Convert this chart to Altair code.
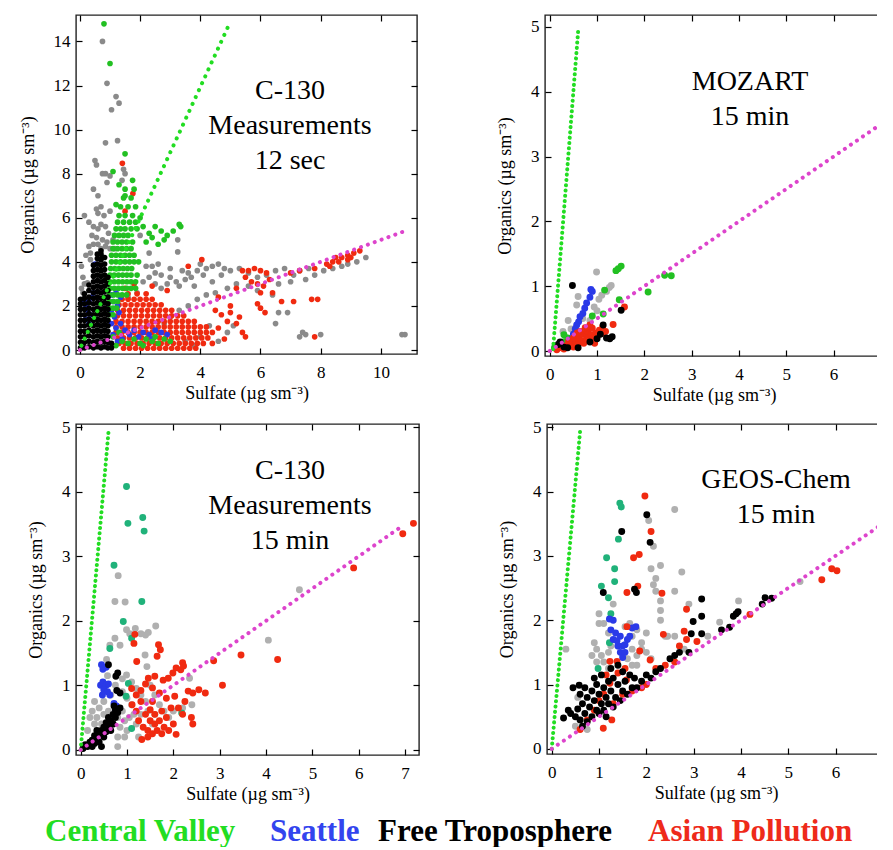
import altair as alt
import pandas as pd

FONT = "Liberation Serif"
UNIT = "(µg sm⁻³)"
X_TITLE = "Sulfate " + UNIT
Y_TITLE = "Organics " + UNIT

# ---------------- Panel 1: C-130 measurements, 12 sec ----------------
P1_BLACK_COLS = {
    0.02: [0.1, 0.35, 0.6, 0.85, 1.1, 1.35, 1.6, 1.85, 2.1, 2.3],
    0.15: [0.1, 0.35, 0.6, 0.85, 1.1, 1.35, 1.6, 1.85, 2.1, 2.35, 2.55],
    0.3: [0.15, 0.4, 0.65, 0.9, 1.15, 1.4, 1.65, 1.9, 2.15, 2.4, 2.7, 2.95],
    0.45: [0.1, 0.35, 0.6, 0.85, 1.1, 1.35, 1.6, 1.85, 2.1, 2.35, 2.6, 2.85, 3.1, 3.35, 3.6, 3.85],
    0.58: [0.15, 0.4, 0.65, 0.9, 1.15, 1.4, 1.65, 1.9, 2.15, 2.4, 2.65, 2.9, 3.15, 3.4, 3.65, 3.9, 4.15, 4.35],
    0.7: [0.1, 0.35, 0.6, 0.85, 1.1, 1.35, 1.6, 1.85, 2.1, 2.35, 2.6, 2.85, 3.1, 3.35, 3.6, 3.85, 4.1, 4.35, 4.5],
    0.82: [0.15, 0.4, 0.65, 0.9, 1.15, 1.4, 1.65, 1.9, 2.15, 2.4, 2.65, 2.9, 3.15, 3.4, 3.65, 3.9, 4.2],
    0.93: [0.1, 0.35, 0.6, 0.85, 1.1, 1.35, 1.6, 1.85, 2.1, 2.4, 2.7, 3.0, 3.3],
    1.05: [0.1, 0.3],
}
P1_RED_ROWS = {
    0.08: [1.45, 1.65, 1.85, 2.05, 2.25, 2.45, 2.65, 2.85, 3.05, 3.25, 3.45, 3.65, 3.85],
    0.3: [1.3, 1.5, 1.7, 1.9, 2.1, 2.3, 2.5, 2.7, 2.9, 3.1, 3.3, 3.5, 3.7, 3.9, 4.1],
    0.55: [1.25, 1.45, 1.65, 1.85, 2.05, 2.25, 2.45, 2.65, 2.85, 3.05, 3.25, 3.45, 3.65, 3.85, 4.05, 4.25],
    0.8: [1.2, 1.4, 1.6, 1.8, 2.0, 2.2, 2.4, 2.6, 2.8, 3.0, 3.2, 3.4, 3.6, 3.8, 4.0, 4.2, 4.4],
    1.05: [1.2, 1.4, 1.6, 1.8, 2.0, 2.2, 2.4, 2.6, 2.8, 3.0, 3.2, 3.4, 3.6, 3.8, 4.0, 4.2],
    1.3: [1.2, 1.4, 1.6, 1.8, 2.0, 2.2, 2.4, 2.6, 2.8, 3.0, 3.2, 3.4, 3.6, 3.8],
    1.55: [1.25, 1.45, 1.65, 1.85, 2.05, 2.25, 2.45, 2.65, 2.85, 3.05, 3.25, 3.45],
    1.8: [1.25, 1.45, 1.65, 1.85, 2.05, 2.25, 2.45, 2.65, 2.85, 3.05],
    2.05: [1.3, 1.5, 1.7, 1.9, 2.1, 2.3, 2.5, 2.7],
    2.3: [1.4, 1.6, 1.8, 2.0, 2.2, 2.4],
    2.55: [1.6, 1.9, 2.2],
}
P1_RED_SPARSE = [
    (4.6, 2.4), (4.7, 1.6), (4.9, 1.3), (5.0, 2.0), (5.2, 1.2), (4.6, 1.0), (5.4, 0.8), (5.5, 0.6),
    (4.8, 0.5), (4.4, 0.3), (3.6, 3.8), (4.05, 4.1), (2.4, 2.9), (1.5, 2.8), (1.8, 3.0), (2.9, 2.7),
    (6.0, 1.9), (5.9, 2.1), (6.15, 1.7), (6.7, 2.2), (7.1, 2.2), (7.7, 2.3), (7.9, 2.3), (7.8, 0.6),
    (1.41, 8.47), (1.76, 7.1), (1.5, 6.3), (5.4, 3.6), (5.6, 3.6), (5.8, 3.7), (6.0, 3.6), (6.2, 3.5),
    (5.5, 3.3), (5.7, 3.1), (5.9, 3.0), (6.1, 2.9), (6.3, 3.2), (6.4, 2.6), (6.0, 2.6), (5.2, 2.8),
    (7.0, 3.5), (7.3, 3.6), (7.8, 3.7), (8.2, 3.9), (8.4, 4.0), (8.5, 4.2), (8.7, 4.2), (8.9, 4.3),
    (9.1, 4.4), (9.3, 4.5), (8.6, 4.0), (8.9, 4.1), (8.3, 3.8), (9.0, 4.2), (5.0, 1.7), (5.3, 1.5),
    (4.5, 1.8),
]
P1_GRAY = [
    (0.75, 14.0), (0.9, 12.1), (1.2, 11.5), (1.3, 11.2), (1.05, 10.9), (0.85, 9.4), (1.25, 9.5),
    (0.5, 8.6), (0.55, 8.4), (0.75, 8.0), (0.85, 8.0), (1.0, 7.9), (1.45, 8.2), (1.5, 8.0), (0.45, 7.3),
    (0.6, 7.0), (0.9, 7.6), (1.4, 7.7), (0.7, 6.5), (0.6, 6.2), (0.15, 6.1), (0.3, 5.8), (0.55, 6.4),
    (0.8, 6.1), (1.0, 6.3), (0.45, 5.6), (0.6, 5.5), (0.7, 5.7), (0.85, 5.6), (0.95, 5.3), (0.4, 5.2),
    (0.55, 5.1), (0.6, 4.8), (0.75, 5.0), (0.9, 4.9), (0.3, 4.7), (0.45, 4.8), (0.7, 4.6), (1.0, 4.6),
    (0.2, 4.3), (0.35, 4.4), (0.05, 3.8), (0.1, 3.3), (0.15, 3.0), (0.05, 2.8), (0.25, 3.05), (0.1, 2.6),
    (0.35, 4.1), (0.85, 4.7), (1.1, 5.0), (1.15, 4.6),
    (1.6, 2.4), (1.9, 2.6), (2.1, 3.1), (2.3, 3.3), (2.5, 3.5), (2.2, 3.8), (2.4, 3.8), (2.7, 3.4),
    (2.9, 3.0), (3.0, 3.3), (3.2, 3.1), (3.4, 3.6), (3.5, 3.2), (3.7, 3.3), (3.9, 3.6), (4.1, 3.4),
    (4.2, 3.7), (4.4, 3.8), (4.6, 3.9), (4.8, 3.7), (4.0, 3.9), (5.0, 3.6), (5.3, 3.7), (4.7, 3.4),
    (5.6, 3.5), (5.9, 3.3), (6.2, 3.4), (6.5, 3.6), (6.8, 3.7), (7.1, 3.4), (7.3, 3.6), (7.6, 3.7),
    (7.8, 3.4), (8.1, 3.6), (8.4, 3.7), (8.7, 3.8), (8.9, 3.9), (9.2, 4.0), (9.5, 4.2), (7.5, 3.2),
    (7.0, 3.1), (6.6, 3.0), (6.4, 2.5), (5.9, 2.7), (5.6, 2.9), (5.2, 3.0), (4.9, 2.8), (4.5, 2.6),
    (4.2, 2.5), (3.9, 2.3), (3.6, 2.0), (3.3, 1.8), (3.0, 1.5), (2.8, 1.2), (3.5, 0.4), (3.8, 0.2),
    (4.6, 0.4), (4.9, 0.8), (5.1, 1.1), (4.3, 1.1), (4.0, 0.6), (6.5, 1.2), (6.6, 1.7), (6.9, 1.7),
    (7.3, 0.6), (7.4, 0.8), (7.5, 0.7), (8.0, 0.7), (10.8, 0.7), (10.7, 0.7), (3.25, 5.0), (3.25, 4.45),
    (2.0, 5.2), (2.3, 4.4), (2.6, 3.9), (3.0, 3.7), (3.6, 3.5), (2.5, 3.0), (2.7, 2.8), (3.3, 2.9),
    (3.8, 2.9), (4.4, 3.1),
]
P1_GREEN_ROWS = {
    1.6: [0.98, 1.1],
    1.9: [0.98, 1.1, 1.22],
    2.2: [0.98, 1.12, 1.25],
    2.5: [0.98, 1.12, 1.26, 1.4, 1.55],
    2.8: [1.0, 1.14, 1.28, 1.42, 1.56, 1.7, 1.85],
    3.1: [1.0, 1.14, 1.28, 1.42, 1.56, 1.7, 1.85],
    3.4: [1.0, 1.14, 1.28, 1.42, 1.56, 1.7, 1.9],
    3.7: [1.02, 1.16, 1.3, 1.44, 1.58, 1.72],
    4.0: [1.05, 1.2, 1.35, 1.5, 1.65, 1.8, 1.95],
    4.3: [1.05, 1.2, 1.35, 1.5, 1.65, 1.8],
    4.6: [1.1, 1.25, 1.4, 1.55, 1.7],
    4.9: [1.1, 1.25, 1.4, 1.55, 1.75],
    5.2: [1.15, 1.3, 1.45, 1.6],
    5.5: [1.2, 1.35, 1.5, 1.7, 1.9],
    5.8: [1.25, 1.45, 1.65, 1.85],
    6.1: [1.3, 1.5, 1.75],
    6.5: [1.35, 1.6, 1.85],
    6.9: [1.45, 1.7],
    7.3: [1.5, 1.8],
    7.7: [1.75],
}
P1_GREEN_SPARSE = [
    (0.8, 14.8), (1.0, 13.0), (1.5, 8.9), (1.1, 8.1), (1.3, 7.5), (1.5, 7.0), (1.2, 6.6), (2.0, 6.0),
    (2.1, 5.6), (2.3, 5.3), (2.5, 5.6), (2.7, 5.4), (2.8, 5.0), (2.9, 5.2), (3.1, 5.4), (3.3, 5.7),
    (3.35, 5.6), (2.4, 5.1), (2.2, 4.9), (2.6, 4.8),
    (1.2, 0.2), (1.4, 0.4), (1.6, 0.3), (1.8, 0.5), (2.0, 0.3), (2.2, 0.5), (2.4, 0.4), (2.6, 0.3),
    (2.8, 0.5), (3.0, 0.4), (1.1, 0.6), (1.3, 0.8), (2.1, 0.2), (2.5, 0.6),
]
P1_BLUE = [
    (0.2, 2.0), (0.25, 1.8), (0.3, 2.2), (0.35, 1.6), (0.2, 1.4), (0.4, 2.4), (0.3, 1.2), (0.5, 3.9),
    (0.45, 2.6), (0.15, 2.2), (1.05, 2.5), (1.2, 2.6), (1.35, 2.4), (1.1, 2.2), (1.25, 2.0), (1.05, 1.8),
    (1.15, 1.5), (1.3, 1.7), (1.05, 1.2), (1.2, 1.0), (1.35, 1.2), (1.5, 0.9), (1.65, 0.7), (1.8, 0.9),
    (1.95, 0.6), (2.1, 0.8), (2.3, 0.7), (2.5, 0.9), (2.7, 0.8), (2.9, 0.7), (1.4, 0.5), (1.1, 0.7),
    (1.25, 0.4), (2.4, 0.5),
]

# ---------------- Panel 2: MOZART, 15 min ----------------
P2_GRAY = [
    (0.99, 1.22), (1.3, 1.01), (1.26, 0.98), (1.2, 0.92), (1.1, 0.86), (1.04, 0.8), (0.94, 0.68),
    (0.6, 0.84), (0.57, 0.71), (0.39, 0.47), (0.45, 0.34), (0.55, 0.36), (0.28, 0.3), (0.85, 0.47),
    (1.0, 0.62), (0.7, 0.5), (0.35, 0.2), (0.2, 0.12), (0.8, 0.35),
]
P2_GREEN = [
    (1.45, 1.27), (1.51, 1.31), (1.4, 1.24), (1.16, 0.94), (1.47, 0.79), (0.9, 0.54), (1.13, 0.57),
    (2.08, 0.91), (2.43, 1.17), (2.57, 1.16), (0.28, 0.14), (0.38, 0.2), (0.1, 0.05), (0.3, 0.25),
    (0.45, 0.12),
]
P2_BLUE = [
    (0.9, 0.92), (0.87, 0.95), (0.85, 0.83), (0.78, 0.74), (0.74, 0.66), (0.7, 0.58), (0.64, 0.53),
    (0.61, 0.45), (0.57, 0.4), (0.54, 0.34), (0.5, 0.26), (0.47, 0.18), (0.44, 0.13), (0.5, 0.08),
]
P2_RED = [
    (0.15, 0.02), (0.25, 0.05), (0.35, 0.08), (0.3, 0.03), (0.45, 0.1), (0.5, 0.06), (0.55, 0.14),
    (0.6, 0.1), (0.62, 0.2), (0.68, 0.16), (0.7, 0.26), (0.72, 0.12), (0.78, 0.22), (0.8, 0.3),
    (0.82, 0.18), (0.88, 0.25), (0.9, 0.35), (0.92, 0.2), (0.98, 0.28), (1.0, 0.22), (1.05, 0.32),
    (1.1, 0.27), (1.12, 0.38), (1.18, 0.3), (0.75, 0.36), (0.65, 0.3), (0.85, 0.4), (1.34, 0.41),
    (1.58, 0.68), (0.4, 0.15), (0.5, 0.2), (0.58, 0.28), (0.95, 0.12),
]
P2_BLACK = [
    (0.48, 1.01), (1.51, 0.63), (1.13, 0.4), (1.27, 0.19), (1.2, 0.2), (1.32, 0.22), (0.22, 0.14),
    (0.18, 0.1), (0.38, 0.05), (0.85, 0.14), (1.0, 0.19), (1.07, 0.26), (0.3, 0.06), (0.6, 0.05),
]

# ---------------- Panel 3: C-130 measurements, 15 min ----------------
P3_GRAY = [
    (0.81, 2.7), (0.74, 2.3), (0.96, 2.29), (1.62, 1.92), (1.46, 1.82), (0.99, 1.86), (1.06, 1.8),
    (1.18, 1.88), (1.3, 1.8), (1.4, 1.78), (0.74, 1.73), (0.63, 1.62), (0.85, 1.62), (1.39, 1.47),
    (1.43, 1.29), (0.56, 1.4), (0.99, 1.16), (0.9, 1.1), (1.1, 1.05), (1.2, 0.95), (1.3, 0.85),
    (1.4, 0.75), (1.5, 1.0), (1.6, 0.85), (1.7, 0.7), (1.8, 0.6), (1.9, 0.5), (2.0, 0.6), (2.2, 0.65),
    (2.35, 1.11), (2.4, 0.7), (4.05, 1.7), (4.72, 2.48), (0.2, 0.5), (0.25, 0.6), (0.3, 0.4),
    (0.35, 0.5), (0.4, 0.65), (0.45, 0.4), (0.5, 0.55), (0.6, 0.6), (0.7, 0.4), (0.8, 0.5),
    (0.85, 0.35), (0.9, 0.6), (0.95, 0.45), (1.0, 0.3), (1.05, 0.5), (1.1, 0.7), (1.15, 0.55),
    (1.2, 0.4), (1.25, 0.2), (0.95, 0.2), (0.8, 0.2), (1.3, 0.55), (0.55, 0.3), (0.15, 0.3),
    (0.5, 0.75), (0.3, 0.75), (0.65, 0.85), (1.0, 0.8), (0.9, 0.9), (0.8, 0.05), (1.45, 0.6),
    (1.55, 0.4), (1.6, 0.55), (0.75, 1.0), (0.58, 1.15),
]
P3_TEAL = [
    (0.99, 4.08), (1.02, 3.51), (1.34, 3.6), (1.37, 3.39), (0.72, 2.86), (1.32, 2.3), (0.92, 1.99),
    (0.63, 1.57), (1.1, 1.73), (1.03, 1.03), (0.98, 0.83), (2.18, 0.57), (1.1, 0.33),
]
P3_BLUE = [
    (0.45, 1.32), (0.48, 1.25), (0.55, 1.28), (0.43, 1.0), (0.48, 1.05), (0.55, 1.0), (0.6, 1.02),
    (0.5, 0.93), (0.58, 0.9), (0.63, 0.85), (0.47, 0.85), (0.72, 0.72), (0.77, 0.68), (0.8, 0.65),
    (0.75, 0.62),
]
P3_RED = [
    (1.17, 1.79), (1.15, 1.65), (1.68, 1.63), (1.72, 1.55), (1.65, 1.45), (1.21, 1.37), (1.46, 1.11),
    (1.6, 1.14), (1.78, 1.08), (1.89, 1.11), (1.99, 1.19), (2.06, 1.27), (2.2, 1.35), (2.16, 1.24),
    (2.22, 1.3), (1.55, 0.96), (1.4, 1.02), (1.7, 0.88), (1.85, 0.8), (2.03, 0.83), (2.32, 0.91),
    (2.42, 0.88), (2.55, 0.93), (2.69, 0.88), (2.11, 0.65), (2.39, 0.5), (2.42, 0.4), (2.0, 0.4),
    (2.06, 0.24), (1.9, 0.3), (1.32, 0.16), (1.11, 0.7), (1.2, 0.6), (1.3, 0.75), (1.25, 0.45),
    (1.35, 0.35), (1.4, 0.55), (1.45, 0.3), (1.5, 0.45), (1.5, 0.62), (1.55, 0.25), (1.6, 0.4),
    (1.6, 0.55), (1.65, 0.3), (1.7, 0.45), (1.75, 0.25), (1.75, 0.6), (1.8, 0.35), (1.45, 0.2),
    (1.55, 0.75), (1.2, 0.85), (1.1, 0.95), (1.3, 0.92), (1.85, 0.5), (1.95, 0.65), (2.2, 0.55),
    (2.25, 0.75), (2.87, 1.38), (3.06, 1.0), (3.46, 1.47), (4.25, 1.4), (5.89, 2.82), (6.95, 3.35),
    (7.18, 3.51),
]
P3_BLACK = [
    (0.05, 0.02), (0.1, 0.08), (0.15, 0.05), (0.2, 0.12), (0.25, 0.15), (0.3, 0.1), (0.3, 0.22),
    (0.35, 0.18), (0.4, 0.25), (0.4, 0.12), (0.45, 0.3), (0.5, 0.2), (0.5, 0.35), (0.55, 0.28),
    (0.55, 0.42), (0.6, 0.35), (0.6, 0.5), (0.65, 0.45), (0.65, 0.3), (0.7, 0.55), (0.7, 0.4),
    (0.75, 0.5), (0.75, 0.62), (0.8, 0.58), (0.85, 0.65), (0.72, 0.68), (0.45, 0.05), (0.25, 0.05),
    (0.35, 0.3), (0.6, 1.32), (0.76, 1.14), (0.8, 1.19), (0.85, 0.88), (0.78, 0.92),
]

# ---------------- Panel 4: GEOS-Chem, 15 min ----------------
P4_GRAY = [
    (2.6, 3.72), (2.1, 2.8), (2.3, 2.85), (2.2, 2.65), (2.15, 2.55), (2.2, 2.45), (2.6, 2.45),
    (2.3, 2.3), (2.3, 2.15), (2.75, 2.75), (2.9, 2.25), (3.95, 2.3), (3.55, 1.97), (5.25, 2.6),
    (2.6, 1.75), (2.4, 1.75), (2.3, 2.0), (1.0, 2.1), (1.0, 1.95), (1.1, 1.95), (1.2, 1.8), (1.3, 2.25),
    (1.55, 1.9), (1.7, 1.75), (1.8, 1.85), (1.9, 1.65), (0.9, 1.65), (0.85, 1.45), (1.05, 1.45),
    (0.95, 1.35), (1.1, 1.35), (1.2, 1.5), (1.25, 1.6), (0.95, 1.55), (1.4, 1.6), (1.5, 1.45),
    (1.6, 1.4), (1.7, 1.55), (1.8, 1.45), (1.9, 1.55), (2.0, 1.5), (2.1, 1.4), (1.7, 1.3), (1.8, 1.3),
    (1.2, 1.25), (0.3, 1.55), (0.55, 0.8), (0.6, 0.45), (0.5, 0.35), (0.75, 0.3), (1.65, 1.95),
    (2.0, 1.8), (2.45, 1.75), (2.8, 1.55), (3.3, 1.75), (2.05, 3.55), (2.15, 3.15),
]
P4_TEAL = [
    (1.44, 3.82), (1.47, 3.76), (1.41, 3.26), (1.16, 2.97), (1.33, 2.8), (1.33, 2.6), (1.05, 2.53),
    (1.2, 2.35), (1.25, 2.1), (1.22, 1.65), (0.98, 1.25),
]
P4_BLUE = [
    (1.22, 2.02), (1.3, 2.0), (1.25, 1.85), (1.35, 1.8), (1.3, 1.7), (1.45, 1.75), (1.5, 1.6),
    (1.4, 1.6), (1.45, 1.5), (1.55, 1.5), (1.6, 1.7), (1.7, 1.88), (1.78, 1.9), (1.65, 1.75),
    (1.5, 1.42), (1.38, 1.68), (1.55, 1.62),
]
P4_RED = [
    (1.97, 3.93), (2.1, 3.38), (1.73, 2.97), (1.85, 3.02), (1.59, 2.43), (1.82, 2.53), (2.33, 2.42),
    (2.85, 2.17), (2.8, 1.83), (2.85, 1.7), (2.36, 1.78), (3.07, 1.67), (1.59, 1.9), (1.86, 1.52),
    (2.08, 1.38), (1.23, 1.36), (1.38, 1.36), (1.58, 1.07), (1.4, 1.18), (1.23, 1.02), (2.2, 1.25),
    (1.09, 0.32), (1.27, 0.45), (4.19, 2.09), (5.71, 2.63), (5.92, 2.8), (6.03, 2.77), (0.9, 0.6),
    (1.0, 0.75), (1.1, 0.85), (1.3, 0.7), (1.5, 0.85), (1.7, 0.9), (0.75, 0.45), (0.6, 0.3),
    (2.4, 1.3), (2.6, 1.35), (2.0, 1.0), (1.9, 0.95), (2.7, 1.6), (1.55, 1.25), (1.15, 1.15),
]
P4_BLACK = [
    (0.25, 0.48), (0.4, 0.55), (0.5, 0.5), (0.45, 0.95), (0.58, 0.99), (0.55, 0.62), (0.6, 0.45),
    (0.65, 0.7), (0.7, 0.55), (0.75, 0.8), (0.75, 0.42), (0.8, 0.65), (0.85, 0.5), (0.85, 0.9),
    (0.9, 0.75), (0.95, 0.6), (0.95, 1.0), (1.0, 0.85), (1.0, 0.55), (1.05, 0.7), (1.1, 0.95),
    (1.1, 0.6), (1.15, 0.8), (1.2, 1.05), (1.2, 0.7), (1.25, 0.9), (1.3, 0.65), (1.3, 1.1),
    (1.35, 0.8), (1.4, 1.0), (1.45, 0.75), (1.5, 1.2), (1.5, 0.9), (1.55, 1.05), (1.6, 0.85),
    (1.65, 1.15), (1.7, 0.95), (1.75, 1.1), (1.8, 0.95), (1.9, 1.05), (2.0, 1.15), (2.1, 1.1),
    (2.2, 1.2), (2.3, 1.25), (2.5, 1.4), (2.7, 1.5), (2.9, 1.5), (0.35, 0.6), (0.6, 0.85),
    (0.7, 0.95), (1.05, 1.15), (1.25, 1.25), (0.9, 1.1), (1.4, 1.3), (1.15, 0.5), (0.65, 0.35),
    (1.09, 2.43), (1.48, 3.38), (2.01, 3.64), (2.08, 3.21), (1.79, 2.43), (1.75, 2.48), (3.17, 2.33),
    (2.99, 1.98), (3.17, 2.06), (2.95, 1.79), (3.17, 1.79), (3.84, 2.06), (3.94, 2.13), (3.9, 2.1),
    (4.51, 2.35), (4.65, 2.34), (4.45, 2.25), (3.59, 1.85), (3.76, 1.89), (2.6, 1.45),
]

# reference lines (start, end)
P1_GREEN_LINE = [(0.05, 0.2), (4.95, 14.75)]
P1_MAG_LINE = [(0.0, 0.0), (10.8, 5.4)]
P2_GREEN_LINE = [(0.07, 0.03), (0.6, 4.93)]
P2_MAG_LINE = [(0.0, 0.0), (7.0, 3.5)]
P3_GREEN_LINE = [(0.0, 0.0), (0.6, 4.92)]
P3_MAG_LINE = [(0.0, 0.0), (6.88, 3.44)]
P4_GREEN_LINE = [(0.0, 0.0), (0.6, 4.94)]
P4_MAG_LINE = [(0.0, 0.0), (7.04, 3.52)]

P1_TEXT = "C-130\nMeasurements\n12 sec"
P2_TEXT = "MOZART\n15 min"
P3_TEXT = "C-130\nMeasurements\n15 min"
P4_TEXT = "GEOS-Chem\n15 min"

LEGEND_LABELS = ["Central Valley", "Seattle", "Free Troposphere", "Asian Pollution"]
LEGEND_COLORS = ["#22dd22", "#3344ee", "#000000", "#ee2a1a"]
LEGEND_POS = [-31, 194, 302, 572]

GRAY1, GRAY2 = "#8a8a8a", "#b0b0b0"
GREEN, TEAL = "#22c022", "#20b27a"
BLUE, RED, BLACK = "#2a3ae8", "#f02a10", "#000000"


def cols(d):
    return [(x, y) for x, ys in d.items() for y in ys]


def rows(d):
    return [(x, y) for y, xs in d.items() for x in xs]


def frame(groups):
    recs = []
    for z, (pts, col) in enumerate(groups):
        for x, y in pts:
            recs.append({"x": x, "y": y, "col": col, "z": z})
    return pd.DataFrame(recs)


def line_df(seg):
    return pd.DataFrame({"x": [seg[0][0], seg[1][0]], "y": [seg[0][1], seg[1][1]]})


def tick_axis(orient, values):
    return alt.Axis(orient=orient, values=values, offset=-6, tickSize=6, tickWidth=1.2,
                    tickColor="black", labels=False, domain=False, grid=False, title=None,
                    minExtent=0, maxExtent=0)


def panel(df, size, xdom, ydom, xvals, yvals, w, h, gline, gdash, mline, text, tx, ty):
    xs = alt.Scale(domain=xdom, nice=False, zero=False)
    ys = alt.Scale(domain=ydom, nice=False, zero=False)
    xlab = alt.Axis(orient="bottom", values=xvals, ticks=False, domain=False, grid=False,
                    labelPadding=10, titlePadding=4, title=X_TITLE, labelFont=FONT, titleFont=FONT,
                    labelFontSize=17, titleFontSize=18, labelColor="black", titleColor="black",
                    titleFontWeight="normal", minExtent=0)
    ylab = alt.Axis(orient="left", values=yvals, ticks=False, domain=False, grid=False,
                    labelPadding=6, titlePadding=16, title=Y_TITLE, labelFont=FONT, titleFont=FONT,
                    labelFontSize=17, titleFontSize=18, labelColor="black", titleColor="black",
                    titleFontWeight="normal", minExtent=0)
    pts = alt.Chart(df).mark_circle(size=size, opacity=1).encode(
        x=alt.X("x:Q", scale=xs, axis=xlab),
        y=alt.Y("y:Q", scale=ys, axis=ylab),
        color=alt.Color("col:N", scale=None),
        order=alt.Order("z:Q"),
    )
    gl = alt.Chart(line_df(gline)).mark_line(color="#22dd22", strokeDash=gdash, strokeCap="round",
                                             strokeWidth=4).encode(
        x=alt.X("x:Q", scale=xs, axis=tick_axis("bottom", xvals)),
        y=alt.Y("y:Q", scale=ys, axis=tick_axis("left", yvals)),
    )
    ml = alt.Chart(line_df(mline)).mark_line(color="#dd44cc", strokeDash=[0.1, 7.2], strokeCap="round",
                                             strokeWidth=4).encode(
        x=alt.X("x:Q", scale=xs, axis=tick_axis("top", xvals)),
        y=alt.Y("y:Q", scale=ys, axis=tick_axis("right", yvals)),
    )
    tx_chart = alt.Chart(pd.DataFrame({"t": [text]})).mark_text(
        font=FONT, fontSize=28, align="center", baseline="alphabetic", lineBreak="\n",
        lineHeight=35, color="black").encode(text="t:N", x=alt.value(tx), y=alt.value(ty))
    return alt.layer(pts, gl, ml, tx_chart).resolve_axis(
        x="independent", y="independent").properties(width=w, height=h)


df1 = frame([(P1_GRAY, GRAY1), (rows(P1_RED_ROWS) + P1_RED_SPARSE, RED), (P1_BLUE, BLUE),
             (rows(P1_GREEN_ROWS) + P1_GREEN_SPARSE, GREEN), (cols(P1_BLACK_COLS), BLACK)])
df2 = frame([(P2_GRAY, GRAY2), (P2_GREEN, GREEN), (P2_BLUE, BLUE), (P2_RED, RED), (P2_BLACK, BLACK)])
df3 = frame([(P3_GRAY, GRAY2), (P3_TEAL, TEAL), (P3_BLUE, BLUE), (P3_RED, RED), (P3_BLACK, BLACK)])
df4 = frame([(P4_GRAY, GRAY2), (P4_TEAL, TEAL), (P4_BLUE, BLUE), (P4_RED, RED), (P4_BLACK, BLACK)])

p1 = panel(df1, 32, [-0.13, 11.2], [-0.18, 15.2], [0, 2, 4, 6, 8, 10], list(range(0, 15, 2)),
           341, 339, P1_GREEN_LINE, [0.1, 7.5], P1_MAG_LINE, P1_TEXT, 214, 84)
p2 = panel(df2, 48, [-0.1, 7.046], [-0.077, 5.185], list(range(0, 8)), list(range(0, 6)),
           338, 341, P2_GREEN_LINE, [0.1, 5.2], P2_MAG_LINE, P2_TEXT, 205, 75)
p3 = panel(df3, 48, [-0.1, 7.3], [-0.08, 5.05], list(range(0, 8)), list(range(0, 6)),
           343, 331, P3_GREEN_LINE, [0.1, 5.2], P3_MAG_LINE, P3_TEXT, 214, 55)
p4 = panel(df4, 48, [-0.1, 7.046], [-0.08, 5.05], list(range(0, 8)), list(range(0, 6)),
           338, 330, P4_GREEN_LINE, [0.1, 5.2], P4_MAG_LINE, P4_TEXT, 229, 64)

legend = alt.Chart(pd.DataFrame({"label": LEGEND_LABELS, "color": LEGEND_COLORS, "pos": LEGEND_POS})).mark_text(
    font=FONT, fontSize=31, fontWeight="bold", align="left", baseline="alphabetic"
).encode(
    x=alt.X("pos:Q", scale=None, axis=None),
    y=alt.value(10),
    text="label:N",
    color=alt.Color("color:N", scale=None),
).properties(width=790, height=13, view=alt.ViewBackground(strokeOpacity=0))

top = alt.hconcat(p1, p2, spacing=76)
bottom = alt.hconcat(p3, p4, spacing=76)
chart = alt.vconcat(top, bottom, legend, spacing=12).properties(
    padding={"left": 10, "top": 5, "right": -17, "bottom": 0}
).configure_view(stroke="#222222", strokeWidth=1.4)

chart.save("out.html", embed_options={"renderer": "svg", "actions": False})
